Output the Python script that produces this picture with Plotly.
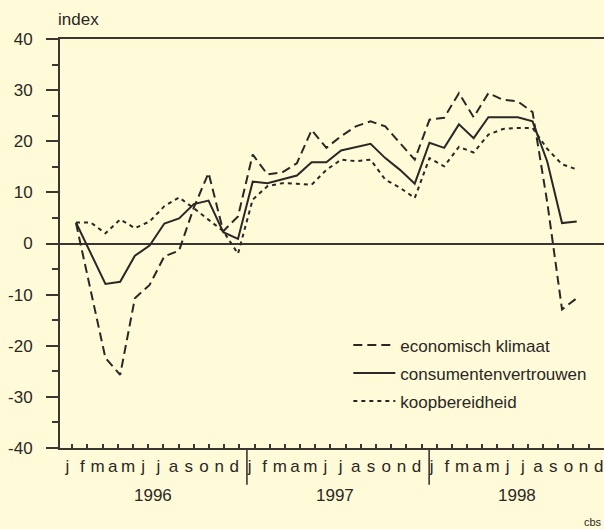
import plotly.graph_objects as go

# ---- data ----
month_labels = ["j", "f", "m", "a", "m", "j", "j", "a", "s", "o", "n", "d"]
year_labels = ["1996", "1997", "1998"]
y_ticks = [-40, -30, -20, -10, 0, 10, 20, 30, 40]
y_tick_labels = ["-40", "-30", "-20", "-10", "0", "10", "20", "30", "40"]

# monthly values, Jan 1996 .. Nov 1998
economisch_klimaat = [4.0, -9.5, -22.4, -25.7, -10.7, -8.1, -2.5, -1.4, 7.0, 13.8, 2.4, 5.3,
                      17.4, 13.5, 13.9, 15.7, 22.2, 18.7, 21.0, 22.9, 23.9, 22.9, 19.7, 16.4,
                      24.2, 24.6, 29.4, 24.7, 29.4, 28.1, 27.8, 25.7, 8.0, -12.9, -10.7]
consumentenvertrouwen = [4.1, -2.0, -7.9, -7.5, -2.4, -0.4, 3.9, 4.9, 7.7, 8.4, 2.2, 0.9,
                         12.1, 11.8, 12.5, 13.3, 15.9, 15.9, 18.2, 18.9, 19.5, 16.7, 14.4, 11.7,
                         19.7, 18.7, 23.3, 20.6, 24.7, 24.7, 24.7, 23.9, 16.0, 4.0, 4.3]
koopbereidheid = [4.1, 4.1, 2.0, 4.7, 3.0, 4.3, 7.3, 9.0, 6.9, 4.7, 2.4, -2.0,
                  8.6, 11.2, 11.8, 11.7, 11.5, 14.4, 16.4, 16.1, 16.4, 12.5, 10.9, 8.9,
                  16.7, 15.1, 18.9, 17.8, 21.3, 22.4, 22.6, 22.6, 18.5, 15.5, 14.5]

series_names = ["economisch klimaat", "consumentenvertrouwen", "koopbereidheid"]

# ---- styling ----
BG = "#fffad7"
INK = "#2a2826"
AXIS = "#3a3733"
FONT = "Liberation Sans, Arial, sans-serif"
FS = 17

month_index = list(range(len(consumentenvertrouwen)))

# axis tick grid (in month-index units)
TICK_OFFSET = -0.25
TICK_STEP = 1.031
n_ticks = 12 * len(year_labels)
tickvals = [TICK_OFFSET + TICK_STEP * k for k in range(n_ticks)]
ticktext = month_labels * len(year_labels)

fig = go.Figure()
styles = [dict(dash="9px,5px"), dict(dash="solid"), dict(dash="4px,4px")]
for i, (name, vals) in enumerate(zip(series_names,
                                     [economisch_klimaat, consumentenvertrouwen, koopbereidheid])):
    fig.add_trace(go.Scatter(
        x=month_index, y=vals, mode="lines", name=name,
        line=dict(color=INK, width=2, **styles[i]),
        legendgroup=f"g{i}", hoverinfo="skip",
    ))

shapes = []
# year separators below the axis
for k in (11.5, 23.5):
    xv = TICK_OFFSET + TICK_STEP * k
    shapes.append(dict(type="line", xref="x", yref="paper", x0=xv, x1=xv, y0=0, y1=-0.09,
                       line=dict(color=AXIS, width=1.6)))

annotations = []
for yi, yl in enumerate(year_labels):
    xv = TICK_OFFSET + TICK_STEP * (12 * yi + 5.3)
    annotations.append(dict(text=yl, xref="x", yref="paper", x=xv, y=-0.116,
                            xanchor="center", yanchor="middle", showarrow=False,
                            font=dict(size=FS, color=INK, family=FONT)))
annotations.append(dict(text="index", xref="paper", yref="paper", x=-0.008, y=1.047,
                        xanchor="left", yanchor="middle", showarrow=False,
                        font=dict(size=FS, color=INK, family=FONT)))
annotations.append(dict(text="cbs", xref="paper", yref="paper", x=1.0, y=-0.18,
                        xanchor="right", yanchor="middle", showarrow=False,
                        font=dict(size=11, color=INK, family=FONT)))

fig.update_layout(
    width=604, height=529,
    margin=dict(l=60, r=0, t=39, b=81),
    paper_bgcolor=BG, plot_bgcolor=BG,
    font=dict(family=FONT, size=FS, color=INK),
    showlegend=True,
    legend=dict(x=0.53, y=0.295, xanchor="left", yanchor="top",
                bgcolor="rgba(0,0,0,0)", tracegroupgap=3,
                font=dict(size=FS, color=INK, family=FONT), itemwidth=42),
    shapes=shapes,
    annotations=annotations,
)

fig.update_xaxes(
    range=[-1.085, 35.85],
    tickmode="array", tickvals=tickvals, ticktext=ticktext,
    ticks="inside", ticklen=4, tickwidth=1.5, tickcolor=AXIS,
    ticklabelshift=-5, ticklabelstandoff=2, ticklabeloverflow="allow",
    showline=True, linecolor=AXIS, linewidth=1.8, mirror=True,
    showgrid=False, zeroline=False,
    tickfont=dict(size=FS, color=INK, family=FONT),
)
fig.update_yaxes(
    range=[-40, 40],
    tickmode="array", tickvals=y_ticks, ticktext=y_tick_labels,
    ticks="outside", ticklen=12, tickwidth=1.8, tickcolor=AXIS,
    minor=dict(dtick=5, tick0=0, ticks="outside", ticklen=6, tickwidth=1.8, tickcolor=AXIS),
    ticklabelstandoff=10,
    showline=True, linecolor=AXIS, linewidth=1.8,
    showgrid=False, zeroline=True, zerolinecolor=AXIS, zerolinewidth=1.5,
    tickfont=dict(size=FS, color=INK, family=FONT),
)

fig.write_html(
    "out.html",
    config={"displayModeBar": False},
    post_script="document.body.style.margin='0';document.body.style.background='%s';" % BG,
)
